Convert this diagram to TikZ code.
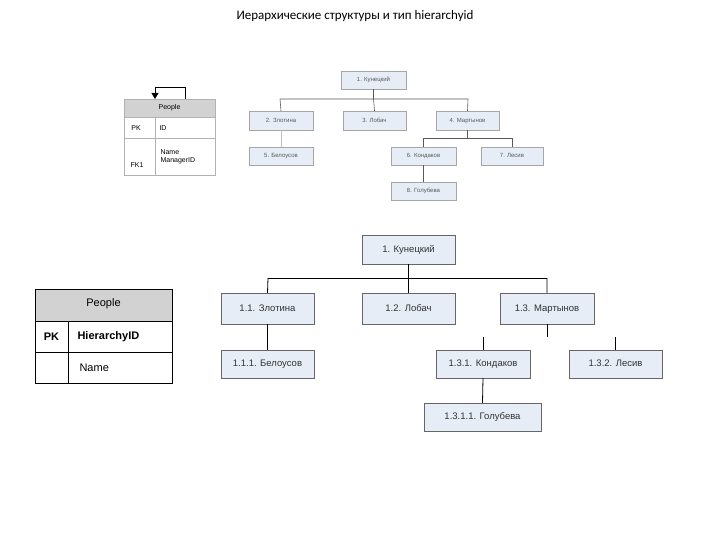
\documentclass[tikz,border=0pt]{standalone}
\usepackage{fontspec}
\setmainfont{Liberation Sans}
\newfontfamily\titlefont{Carlito}
\usetikzlibrary{arrows.meta}
\definecolor{boxfill}{HTML}{E6EDF7}
\begin{document}
\begin{tikzpicture}[x=1pt,y=-1pt,
  bx/.style={draw=gray!70,fill=boxfill,inner sep=0pt,text height=5pt,text depth=1.5pt,font=\fontsize{6}{7}\selectfont,text=gray!70!black},
  bb/.style={draw=gray!80!black,fill=boxfill,inner sep=0pt,text height=7pt,text depth=2pt,font=\fontsize{9.5}{10}\selectfont,text=black!80},
  ln/.style={draw=gray!70!black,line width=0.6pt},
  lnb/.style={draw=black,line width=0.8pt}]
\useasboundingbox (0,0) rectangle (720,540);
\node[font=\titlefont\fontsize{13}{15}\selectfont] (title) at (355,16) {Иерархические структуры и тип hierarchyid};
% small tree
\node[bx,minimum width=65pt,minimum height=18pt] (a1) at (373.5,80) {1. Кунецкий};
\node[bx,minimum width=64pt,minimum height=19pt] (a2) at (281,120.5) {2. Злотина};
\node[bx,minimum width=63pt,minimum height=19pt] (a3) at (374.5,120.5) {3. Лобач};
\node[bx,minimum width=63pt,minimum height=19pt] (a4) at (467.5,120.5) {4. Мартынов};
\node[bx,minimum width=64pt,minimum height=18pt] (a5) at (281,156) {5. Белоусов};
\node[bx,minimum width=65pt,minimum height=18pt] (a6) at (423.5,156) {6. Кондаков};
\node[bx,minimum width=62pt,minimum height=18pt] (a7) at (512,156) {7. Лесив};
\node[bx,minimum width=65pt,minimum height=18pt] (a8) at (423.5,191) {8. Голубева};
\coordinate (h1) at (373.5,99);
\draw[ln] (a1.south) -- (h1) (280,99) -- (468,99) (a3.north) -- (h1);
\draw[ln] (280,99) -- (a2.north) (468,99) -- (a4.north);
\draw[ln,gray!50] (a2.south) -- (a5.north);
\draw[ln] (a4.south) -- (467.5,138) (423.5,138) -- (512,138);
\draw[ln] (423.5,138) -- (a6.north) (512,138) -- (a7.north);
\draw[ln] (a6.south) -- (a8.north);
% small table
\fill[gray!35] (124,99) rectangle (215,117);
\draw[gray!60] (124,99) rectangle (215,175) (124,117) -- (215,117) (124,138) -- (215,138) (155,117) -- (155,175);
\node[font=\fontsize{7}{8}\selectfont] (tp) at (169.5,108) {People};
\node[font=\fontsize{7}{8}\selectfont] (tpk) at (136,128) {PK};
\node[font=\fontsize{7}{8}\selectfont] (tid) at (163,128) {ID};
\node[font=\fontsize{7}{8}\selectfont] (tfk) at (137,165) {FK1};
\node[font=\fontsize{7}{8}\selectfont,align=left,anchor=west] (tnm) at (157,157) {Name\\ManagerID};
\coordinate (s1) at (185,99);
\coordinate (s2) at (155,99);
\draw[black,line width=0.8pt,-{Triangle[length=6pt,width=7pt]}] (s1) -- (185,87) -- (155,87) -- (s2);
% big table
\fill[gray!35] (35,289) rectangle (172,321);
\draw[black,line width=0.8pt] (35,289) rectangle (172,383) (35,321) -- (172,321) (35,352) -- (172,352) (68,321) -- (68,383);
\node[font=\fontsize{11}{12}\selectfont] (bp) at (103.5,304) {People};
\node[font=\bfseries\fontsize{11}{12}\selectfont] (bpk) at (51.5,336.5) {PK};
\node[font=\bfseries\fontsize{11}{12}\selectfont,anchor=west] (bid) at (74,336.5) {HierarchyID};
\node[font=\fontsize{11}{12}\selectfont,anchor=west] (bnm) at (76,368) {Name};
% big tree
\node[bb,minimum width=93pt,minimum height=29pt] (b1) at (408.5,249.5) {1. Кунецкий};
\node[bb,minimum width=93pt,minimum height=31pt] (b2) at (267.5,308.5) {1.1. Злотина};
\node[bb,minimum width=93pt,minimum height=31pt] (b3) at (408.5,308.5) {1.2. Лобач};
\node[bb,minimum width=94pt,minimum height=31pt] (b4) at (547,308.5) {1.3. Мартынов};
\node[bb,minimum width=93pt,minimum height=28pt] (b5) at (267.5,364) {1.1.1. Белоусов};
\node[bb,minimum width=94pt,minimum height=28pt] (b6) at (483,364) {1.3.1. Кондаков};
\node[bb,minimum width=93pt,minimum height=28pt] (b7) at (615.5,364) {1.3.2. Лесив};
\node[bb,minimum width=117pt,minimum height=28pt] (b8) at (482.5,417) {1.3.1.1. Голубева};
\coordinate (H) at (408.5,278);
\draw[lnb] (b1.south) -- (H) -- (b3.north) (268,278) -- (547,278);
\draw[lnb] (268,278) -- (b2.north) (547,278) -- (b4.north);
\draw[lnb] (b2.south) -- (b5.north);
\draw[lnb] (b4.south) -- (547,337) (483,337) -- (b6.north) (615.5,337) -- (b7.north);
\draw[lnb] (b6.south) -- (b8.north);
\end{tikzpicture}
\end{document}
